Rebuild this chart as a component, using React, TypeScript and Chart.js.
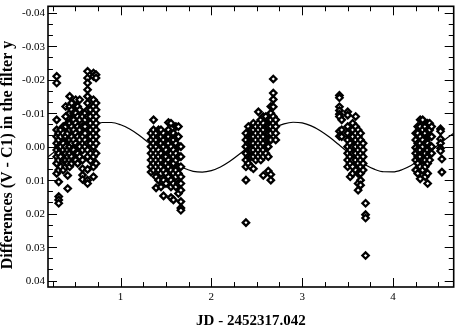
import React, { useEffect, useRef } from "react";
import { Chart, registerables } from "chart.js";
Chart.register(...registerables);

// ---- axis limits / ticks ----
const xMin = 0.2;
const xMax = 4.67;
const yMin = -0.0419;
const yMax = 0.0419;
const xMajorTicks = [1, 2, 3, 4];
const xTickLabels = ["1", "2", "3", "4"];
const xMinorTicks = [0.25, 0.5, 0.75, 1.25, 1.5, 1.75, 2.25, 2.5, 2.75, 3.25, 3.5, 3.75, 4.25, 4.5];
const yMajorTicks = [-0.04, -0.03, -0.02, -0.01, 0, 0.01, 0.02, 0.03, 0.04];
const yTickLabels = ["-0.04", "-0.03", "-0.02", "-0.01", "0.00", "0.01", "0.02", "0.03", "0.04"];
const yMinorTicks = [
  -0.03667, -0.03333, -0.02667, -0.02333, -0.01667, -0.01333, -0.00667, -0.00333,
  0.00333, 0.00667, 0.01333, 0.01667, 0.02333, 0.02667, 0.03333, 0.03667,
];
const xTitle = "JD - 2452317.042";
const yTitle = "Differences (V - C1) in the filter y";

// ---- observations: JD offset of each column, and the differences measured there ----
const night1JD = [0.296, 0.318, 0.34, 0.368, 0.395, 0.417, 0.439, 0.461, 0.483, 0.505, 0.527, 0.549, 0.581, 0.608, 0.636, 0.668, 0.701, 0.729];
const night1Diff = [
  [-0.021, -0.019, -0.008, -0.005, -0.003, -0.001, 0.001, 0.003, 0.005, 0.008],
  [-0.004, -0.002, 0.0, 0.002, 0.004, 0.007, 0.0105, 0.0149, 0.0159, 0.0169],
  [-0.005, -0.003, 0.0, 0.003, 0.006],
  [-0.006, -0.004, -0.001, 0.001, 0.004, 0.007],
  [-0.012, -0.009, -0.006, -0.003, 0.0, 0.002, 0.004, 0.006],
  [-0.007, -0.004, -0.002, 0.001, 0.003, 0.005, 0.0086, 0.0125],
  [-0.015, -0.012, -0.01, -0.007, -0.005, -0.002, 0.0, 0.002, 0.004, 0.006],
  [-0.013, -0.011, -0.008, -0.006, -0.003, -0.001, 0.001, 0.003, 0.005],
  [-0.01, -0.008, -0.005, -0.002, 0.001, 0.004],
  [-0.014, -0.012, -0.01, -0.007, -0.004, -0.001, 0.002, 0.004],
  [-0.012, -0.009, -0.006, -0.003, 0.0, 0.002, 0.005],
  [-0.014, -0.011, -0.008, -0.005, -0.002, 0.0, 0.003],
  [-0.009, -0.006, -0.003, 0.001, 0.004, 0.0066, 0.0085, 0.0098],
  [-0.01, -0.008, -0.006, -0.004, -0.002, 0.0],
  [-0.0225, -0.0205, -0.019, -0.017, -0.015, -0.013, -0.011, -0.009, -0.001, 0.001, 0.003, 0.0068, 0.01, 0.011],
  [-0.011, -0.009, -0.007, -0.005, -0.003, -0.001, 0.002, 0.0042],
  [-0.022, -0.021, -0.014, -0.012, -0.01, -0.008, -0.006, -0.004, -0.002, 0.0, 0.003, 0.006, 0.009],
  [-0.0215, -0.0205, -0.013, -0.011, -0.009, -0.007, -0.005, -0.003, -0.001, 0.002, 0.005],
];

const night2JD = [1.336, 1.363, 1.391, 1.418, 1.445, 1.473, 1.5, 1.527, 1.555, 1.582, 1.609, 1.637, 1.664];
const night2Diff = [
  [-0.004, -0.002, 0.0, 0.002, 0.004, 0.006, 0.0076],
  [-0.008, -0.005, -0.003, -0.001, 0.001, 0.003, 0.005, 0.007],
  [-0.004, -0.002, 0.0, 0.002, 0.004, 0.006, 0.009, 0.0123],
  [-0.005, -0.003, -0.001, 0.001, 0.003, 0.005, 0.007, 0.01],
  [-0.005, -0.003, -0.001, 0.002, 0.004, 0.006, 0.008, 0.012],
  [-0.004, -0.002, 0.0, 0.003, 0.005, 0.007, 0.01, 0.0147],
  [-0.003, -0.001, 0.001, 0.003, 0.005, 0.008, 0.011],
  [-0.0072, -0.005, -0.003, -0.001, 0.002, 0.004, 0.006, 0.009],
  [-0.007, -0.004, -0.002, 0.0, 0.002, 0.005, 0.007, 0.01, 0.012, 0.0152],
  [-0.004, -0.002, 0.001, 0.003, 0.005, 0.008, 0.011, 0.0159],
  [-0.006, -0.003, -0.001, 0.002, 0.004, 0.007, 0.009, 0.012],
  [-0.006, -0.003, 0.0, 0.003, 0.006, 0.008, 0.011, 0.014],
  [0.0, 0.003, 0.006, 0.009, 0.011, 0.013, 0.0164, 0.0183, 0.019],
];

const night3JD = [2.381, 2.408, 2.435, 2.463, 2.49, 2.518, 2.545, 2.572, 2.6, 2.627, 2.655, 2.682, 2.709];
const night3Diff = [
  [-0.004, -0.002, 0.0, 0.002, 0.004, 0.006, 0.01, 0.0227],
  [-0.006, -0.003, -0.001, 0.001, 0.003, 0.005],
  [-0.005, -0.003, -0.001, 0.001, 0.003, 0.006],
  [-0.007, -0.005, -0.003, -0.001, 0.001, 0.003, 0.0066],
  [-0.006, -0.004, -0.002, 0.0, 0.002, 0.004],
  [-0.0104, -0.007, -0.005, -0.003, -0.001, 0.001, 0.003],
  [-0.008, -0.006, -0.004, -0.002, 0.0, 0.002, 0.004],
  [-0.009, -0.007, -0.005, -0.003, -0.001, 0.001, 0.003, 0.0086],
  [-0.009, -0.006, -0.004, -0.002, 0.0, 0.002],
  [-0.008, -0.006, -0.004, -0.002, 0.0, 0.003, 0.0073],
  [-0.012, -0.01, -0.008, -0.006, -0.004, -0.002, 0.0083, 0.01],
  [-0.0202, -0.016, -0.0141, -0.0119, -0.009, -0.007, -0.005],
  [-0.008, -0.006, -0.004, -0.002],
];

const night4JD = [3.411, 3.436, 3.502, 3.53, 3.557, 3.59, 3.617, 3.644, 3.672, 3.699];
const night4Diff = [
  [-0.0153, -0.0146, -0.0119, -0.0108, -0.0097, -0.009, -0.0046, -0.0031],
  [-0.008, -0.005, -0.003],
  [-0.0104, -0.0094, -0.006, -0.004, -0.002, 0.0, 0.002, 0.004, 0.006],
  [-0.003, -0.001, 0.001, 0.003, 0.005, 0.009],
  [-0.007, -0.005, -0.003, 0.0, 0.002, 0.004, 0.006, 0.008],
  [-0.009, -0.006, -0.004, -0.002, 0.0, 0.002, 0.004, 0.007],
  [-0.005, -0.003, -0.001, 0.001, 0.003, 0.005, 0.008, 0.011, 0.013],
  [-0.004, -0.002, 0.0, 0.002, 0.004, 0.006, 0.008, 0.01, 0.0115],
  [-0.001, 0.001, 0.003, 0.005, 0.007],
  [0.0169, 0.0203, 0.0213, 0.0325],
];

const night5JD = [4.252, 4.274, 4.301, 4.328, 4.356, 4.383, 4.405, 4.427, 4.525, 4.54];
const night5Diff = [
  [-0.004, -0.002, 0.0003, 0.002, 0.004, 0.007],
  [-0.006, -0.004, -0.001, 0.001, 0.003, 0.005, 0.008],
  [-0.008, -0.006, -0.003, -0.001, 0.001, 0.003, 0.006, 0.0096],
  [-0.008, -0.005, -0.002, 0.0, 0.002, 0.004, 0.007],
  [-0.006, -0.004, -0.001, 0.002, 0.004, 0.006, 0.009],
  [-0.007, -0.005, -0.003, -0.001, 0.001, 0.003, 0.005, 0.008, 0.011],
  [-0.007, -0.005, -0.003, 0.0, 0.002, 0.004],
  [-0.006, -0.003, 0.0, 0.002],
  [-0.0053, -0.0046, -0.0023, -0.001, 0.0005, 0.0013],
  [0.0037, 0.0076],
];

// ---- fitted curve ----
const fitJD = [0.2, 0.3, 0.4, 0.5, 0.6, 0.7, 0.8, 0.9, 1.0, 1.1, 1.2, 1.3, 1.4, 1.5, 1.6, 1.7, 1.8, 1.9, 2.0, 2.1, 2.2, 2.3, 2.4, 2.5, 2.6, 2.7, 2.8, 2.9, 3.0, 3.1, 3.2, 3.3, 3.4, 3.5, 3.6, 3.7, 3.8, 3.9, 4.0, 4.1, 4.2, 4.3, 4.4, 4.5, 4.6, 4.7];
const fitDiff = [0.00306, 0.00088, -0.00136, -0.00348, -0.00526, -0.00654, -0.00721, -0.00721, -0.00654, -0.00526, -0.00348, -0.00136, 0.00088, 0.00306, 0.00497, 0.00646, 0.00736, 0.00759, 0.00715, 0.00607, 0.00445, 0.00244, 0.00021, -0.00203, -0.00406, -0.0057, -0.00681, -0.00729, -0.00708, -0.00621, -0.00477, -0.00287, -0.00069, 0.00156, 0.00367, 0.00548, 0.00679, 0.0075, 0.00753, 0.00688, 0.00562, 0.00387, 0.00178, -0.00047, -0.00266, -0.00458];

const nightsJD = [night1JD, night2JD, night3JD, night4JD, night5JD];
const nightsDiff = [night1Diff, night2Diff, night3Diff, night4Diff, night5Diff];

const SERIF = '"Liberation Serif", "Times New Roman", serif';

const frame = {
  id: "frame",
  afterDraw(chart: any) {
    const { ctx, chartArea, scales } = chart;
    const { left, right, top, bottom } = chartArea;
    const xs = scales.x;
    const ys = scales.y;
    ctx.save();
    ctx.strokeStyle = "#000";
    ctx.lineWidth = 1;
    ctx.beginPath();
    const tick = (len: number, isMajor: boolean) => (isMajor ? len : len * 0.55);
    const drawX = (v: number, major: boolean) => {
      const px = Math.round(xs.getPixelForValue(v)) + 0.5;
      const l = tick(9, major);
      ctx.moveTo(px, bottom);
      ctx.lineTo(px, bottom - l);
      ctx.moveTo(px, top);
      ctx.lineTo(px, top + l);
    };
    const drawY = (v: number, major: boolean) => {
      const py = Math.round(ys.getPixelForValue(v)) + 0.5;
      const l = tick(9, major);
      ctx.moveTo(left, py);
      ctx.lineTo(left + l, py);
      ctx.moveTo(right, py);
      ctx.lineTo(right - l, py);
    };
    xMajorTicks.forEach((v) => drawX(v, true));
    xMinorTicks.forEach((v) => drawX(v, false));
    yMajorTicks.forEach((v) => drawY(v, true));
    yMinorTicks.forEach((v) => drawY(v, false));
    ctx.stroke();

    ctx.lineWidth = 1.6;
    ctx.strokeRect(left, top, right - left, bottom - top);

    ctx.fillStyle = "#000";
    ctx.font = `11px ${SERIF}`;
    ctx.textAlign = "right";
    ctx.textBaseline = "middle";
    yMajorTicks.forEach((v, i) => {
      ctx.fillText(yTickLabels[i], left - 3, ys.getPixelForValue(v) + 0.5);
    });
    ctx.textAlign = "center";
    ctx.textBaseline = "alphabetic";
    xMajorTicks.forEach((v, i) => {
      ctx.fillText(xTickLabels[i], xs.getPixelForValue(v), bottom + 13);
    });

    ctx.font = `bold 15px ${SERIF}`;
    ctx.fillText(xTitle, (left + right) / 2, bottom + 38);

    ctx.save();
    ctx.translate(12, 155);
    ctx.rotate(-Math.PI / 2);
    ctx.font = `bold 16px ${SERIF}`;
    ctx.textAlign = "center";
    ctx.fillText(yTitle, 0, 0);
    ctx.restore();
    ctx.restore();
  },
};

export default function App() {
  const ref = useRef<HTMLCanvasElement | null>(null);
  useEffect(() => {
    if (!ref.current) return;
    const points: { x: number; y: number }[] = [];
    nightsJD.forEach((jds, n) => {
      jds.forEach((jd, i) => {
        nightsDiff[n][i].forEach((d) => points.push({ x: jd, y: d }));
      });
    });
    const curve = fitJD.map((x, i) => ({ x, y: fitDiff[i] }));
    const chart = new Chart(ref.current, {
      type: "scatter",
      data: {
        datasets: [
          {
            data: points,
            showLine: false,
            pointStyle: "rectRot",
            pointRadius: 3.2,
            pointBorderWidth: 2.3,
            pointBorderColor: "#000",
            pointBackgroundColor: "#fff",
          },
          {
            data: curve,
            showLine: true,
            borderColor: "#000",
            borderWidth: 1.2,
            pointRadius: 0,
            cubicInterpolationMode: "monotone",
            fill: false,
          },
        ],
      },
      options: {
        responsive: false,
        animation: false,
        layout: { padding: { left: 48, right: 3, top: 1, bottom: 40 } },
        plugins: { legend: { display: false }, tooltip: { enabled: false } },
        scales: {
          x: { type: "linear", min: xMin, max: xMax, display: false },
          y: { type: "linear", min: yMin, max: yMax, reverse: true, display: false },
        },
      },
      plugins: [frame],
    });
    return () => chart.destroy();
  }, []);
  return (
    <div style={{ position: "absolute", left: 0, top: 0, width: 460, height: 327, background: "#fff" }}>
      <canvas ref={ref} width={460} height={327} style={{ display: "block" }} />
    </div>
  );
}
